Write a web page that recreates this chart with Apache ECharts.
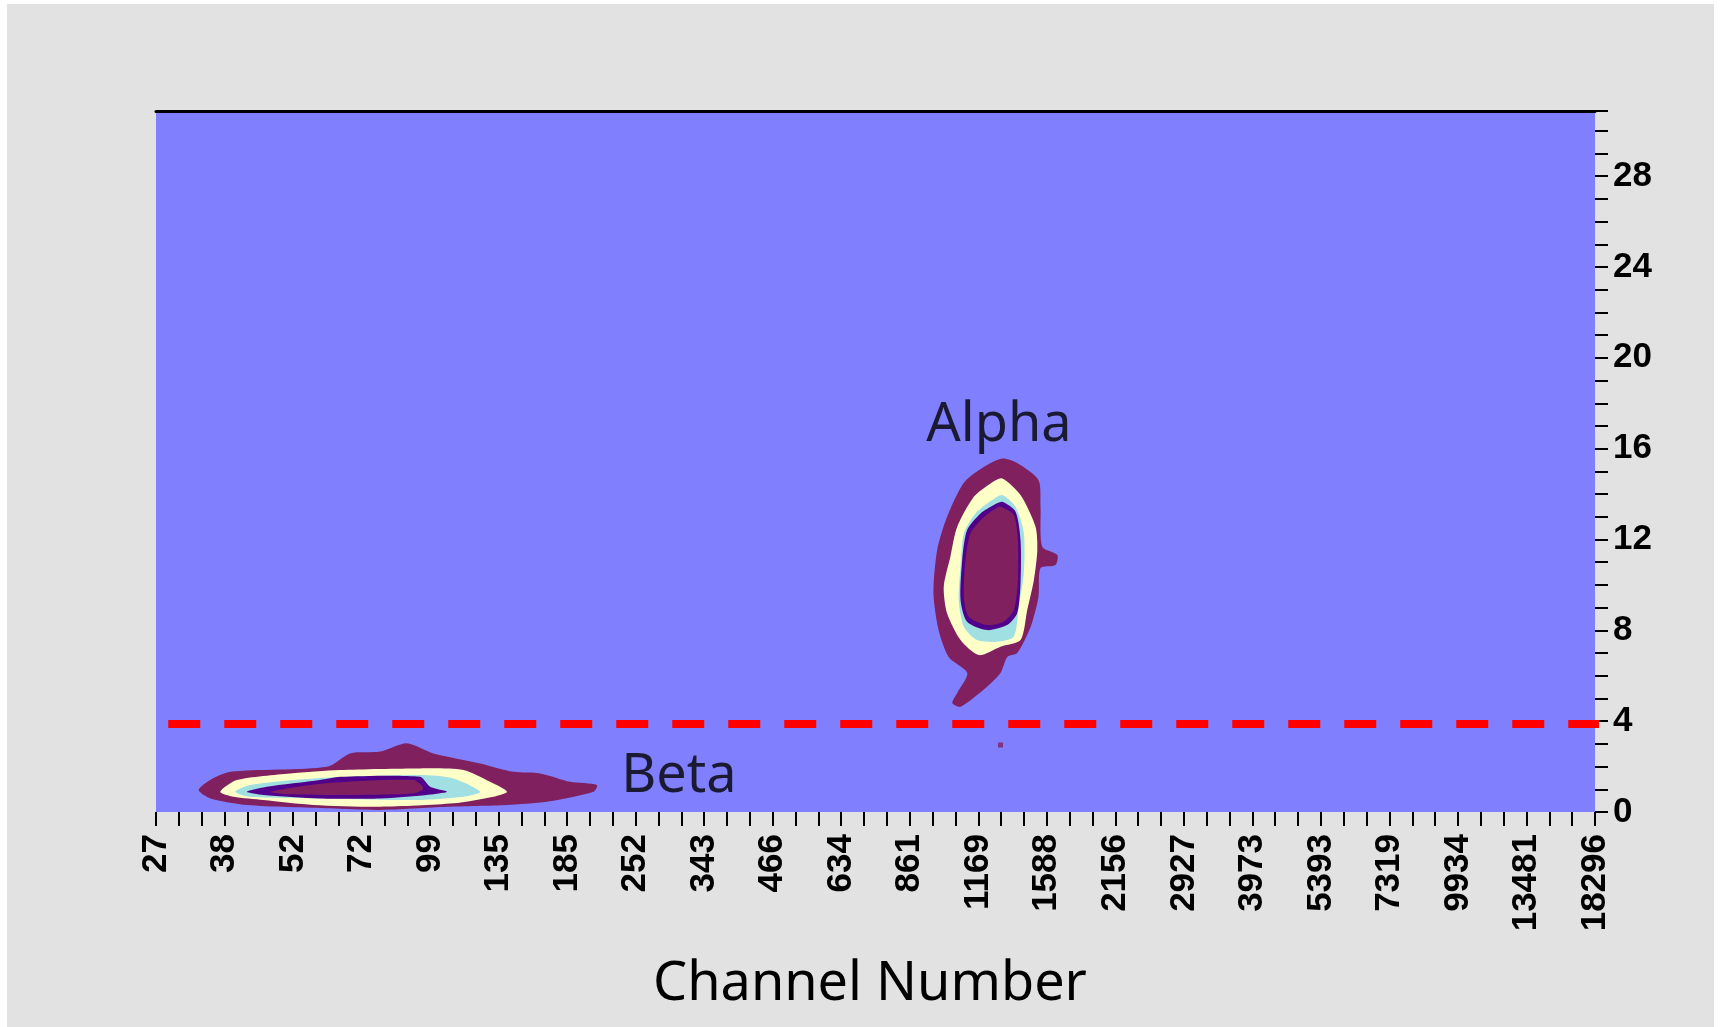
<!DOCTYPE html>
<html>
<head>
<meta charset="utf-8">
<script src="https://cdn.jsdelivr.net/npm/echarts@6/dist/echarts.min.js"></script>
<style>
html,body{margin:0;padding:0;background:#ffffff;}
#bg{position:absolute;left:7px;top:4px;width:1707px;height:1023px;background:#e2e2e2;}
#chart{position:absolute;left:0;top:0;width:1720px;height:1027px;}
</style>
</head>
<body>
<div id="bg"></div>
<div id="chart"></div>
<script>
// ---- data ----
const xLabels = [27,38,52,72,99,135,185,252,343,466,634,861,1169,1588,2156,2927,3973,5393,7319,9934,13481,18296];
const yMin = 0;
const yMax = 30.87;
const yLabelStep = 4;
const xTitle = 'Channel Number';

// contour layers: [channel, y]
const alphaOuter = [[1301,15.57],[1391,15.37],[1530,14.62],[1544,13.43],[1556,11.68],[1664,11.32],[1651,10.88],[1544,10.74],[1530,9.47],[1477,8.15],[1391,7.0],[1331,6.83],[1291,6.12],[1216,5.52],[1080,4.64],[1041,4.80],[1064,5.24],[1113,6.12],[1024,6.83],[979,8.01],[957,9.64],[973,11.54],[1017,13.0],[1095,14.49],[1197,15.19]];
const alphaYellow = [[1301,14.69],[1412,13.96],[1510,12.56],[1522,11.54],[1499,10.22],[1455,8.89],[1412,7.57],[1291,7.28],[1172,6.91],[1080,7.57],[1017,8.75],[1002,9.92],[1032,11.24],[1064,12.56],[1146,13.88],[1235,14.47]];
const alphaCyan = [[1301,13.96],[1381,13.44],[1433,12.27],[1433,10.51],[1401,9.04],[1370,7.72],[1272,7.50],[1163,7.57],[1096,8.16],[1071,9.34],[1080,10.80],[1096,12.27],[1154,13.15],[1244,13.74]];
const alphaPurple = [[1301,13.66],[1381,13.22],[1412,11.98],[1412,10.07],[1391,8.75],[1330,8.23],[1216,8.01],[1112,8.38],[1080,9.34],[1088,11.10],[1112,12.42],[1181,13.15],[1253,13.52]];
const alphaCore = [[1291,13.44],[1370,13.08],[1395,11.98],[1395,10.07],[1370,8.89],[1310,8.38],[1216,8.23],[1120,8.60],[1096,9.48],[1104,11.10],[1129,12.27],[1190,12.93],[1263,13.37]];

const betaOuter = [[33.4,0.97],[35.4,1.41],[39.0,1.77],[61.1,1.99],[68.2,2.58],[78.5,2.66],[88.8,3.03],[100.5,2.58],[124.2,2.14],[144.6,1.77],[163.5,1.70],[187.6,1.33],[211.6,1.19],[208.4,0.89],[168.6,0.45],[140.3,0.31],[106.8,0.23],[78.5,0.09],[62.0,0.16],[42.1,0.31],[35.4,0.60]];
const betaYellow = [[37.2,0.89],[40.2,1.41],[51.3,1.70],[65.0,1.85],[94.5,1.92],[115.1,1.85],[129.9,1.33],[140.3,0.89],[131.9,0.67],[110.0,0.38],[78.5,0.23],[57.3,0.31],[45.4,0.53],[39.6,0.67]];
const betaCyan = [[39.9,0.89],[42.7,1.19],[57.3,1.48],[94.5,1.63],[110.0,1.48],[124.2,0.89],[115.1,0.67],[94.5,0.53],[57.3,0.60],[42.7,0.67]];
const betaPurple = [[42.1,0.89],[46.1,1.11],[59.1,1.41],[65.0,1.55],[94.5,1.55],[99.0,1.11],[106.8,0.89],[97.5,0.75],[78.5,0.60],[59.1,0.60],[45.4,0.75]];
const betaCore = [[46.8,0.89],[60.1,1.26],[91.6,1.41],[96.0,1.04],[91.6,0.82],[62.0,0.75],[50.0,0.79]];

const strayEvents = [[1291,2.95]];
const cutLevel = 3.87;
const cutRange = [28.7, 18800];
const annotations = [{name:'Alpha', ch:1282, y:17.02},{name:'Beta', ch:306, y:1.54}];

// ---- helpers ----
function chToX(ch){
  let i = 0;
  while (i < xLabels.length - 2 && ch > xLabels[i+1]) i++;
  const f = Math.log(ch / xLabels[i]) / Math.log(xLabels[i+1] / xLabels[i]);
  return (i + f) * 3;
}
const MAROON = '#80205f', YELLOW = '#ffffc8', CYAN = '#a0e0e2', PURPLE = '#50008a';
const layers = [
  {pts: alphaOuter, c: MAROON},{pts: alphaYellow, c: YELLOW},{pts: alphaCyan, c: CYAN},{pts: alphaPurple, c: PURPLE},{pts: alphaCore, c: MAROON},
  {pts: betaOuter, c: MAROON},{pts: betaYellow, c: YELLOW},{pts: betaCyan, c: CYAN},{pts: betaPurple, c: PURPLE},{pts: betaCore, c: MAROON}
];
const xMax = (xLabels.length - 1) * 3;
const tickFont = {fontFamily:'Liberation Sans', fontWeight:'bold', fontSize:35, color:'#000'};

const chart = echarts.init(document.getElementById('chart'), null, {renderer:'canvas'});
chart.setOption({
  backgroundColor: 'transparent',
  animation: false,
  grid: {left:156, right:125, top:111, bottom:215, show:true, backgroundColor:'#8080ff', borderWidth:0},
  xAxis: [{
    type:'value', min:0, max:xMax, interval:1, position:'bottom',
    axisLine:{show:false, onZero:false},
    axisTick:{show:true, length:14, lineStyle:{color:'#000', width:2}},
    splitLine:{show:false},
    axisLabel:Object.assign({rotate:90, margin:22, formatter:function(v){ return (Math.abs(v - Math.round(v))<1e-6 && Math.round(v)%3===0) ? String(xLabels[Math.round(v)/3]) : ''; }}, tickFont)
  },{
    type:'value', min:0, max:xMax, position:'top',
    axisLine:{show:true, onZero:false, lineStyle:{color:'#000', width:3}},
    axisTick:{show:false}, axisLabel:{show:false}, splitLine:{show:false}
  }],
  yAxis: {
    type:'value', min:yMin, max:yMax, interval:1, position:'right',
    axisLine:{show:false, onZero:false},
    axisTick:{show:true, length:13, lineStyle:{color:'#000', width:2}},
    splitLine:{show:false},
    axisLabel:Object.assign({margin:18, formatter:function(v){ return (Math.abs(v - Math.round(v))<1e-6 && Math.round(v)%yLabelStep===0) ? String(Math.round(v)) : ''; }}, tickFont)
  },
  graphic: [{
    type:'text', x:870, y:985, z:10,
    style:{text:xTitle, fontFamily:'Noto Sans', fontSize:54, fill:'#000', textAlign:'center', textVerticalAlign:'middle'}
  }],
  series: [
    {
      type:'custom', xAxisIndex:0, yAxisIndex:0, z:3,
      data: layers.map(function(l, i){ return [chToX(l.pts[0][0]), l.pts[0][1], i]; }),
      renderItem: function(params, api){
        const l = layers[params.dataIndex];
        const pts = l.pts.map(function(p){ return api.coord([chToX(p[0]), p[1]]); });
        return {type:'polygon', shape:{points:pts, smooth:0.25}, style:{fill:l.c, stroke:null}};
      }
    },
    {
      type:'scatter', z:4, symbol:'rect', symbolSize:5, itemStyle:{color:MAROON},
      data: strayEvents.map(function(p){ return [chToX(p[0]), p[1]]; })
    },
    {
      type:'line', z:5, clip:false, symbol:'none', silent:true,
      lineStyle:{color:'#ff0000', width:8, type:[32,24], cap:'butt'},
      data: cutRange.map(function(c){ return [chToX(c), cutLevel]; })
    },
    {
      type:'scatter', z:6, symbolSize:0,
      label:{show:true, position:'inside', formatter:'{b}', fontFamily:'Noto Sans', fontSize:54, color:'#000'},
      data: annotations.map(function(a){ return {name:a.name, value:[chToX(a.ch), a.y]}; })
    }
  ]
});
</script>
</body>
</html>
